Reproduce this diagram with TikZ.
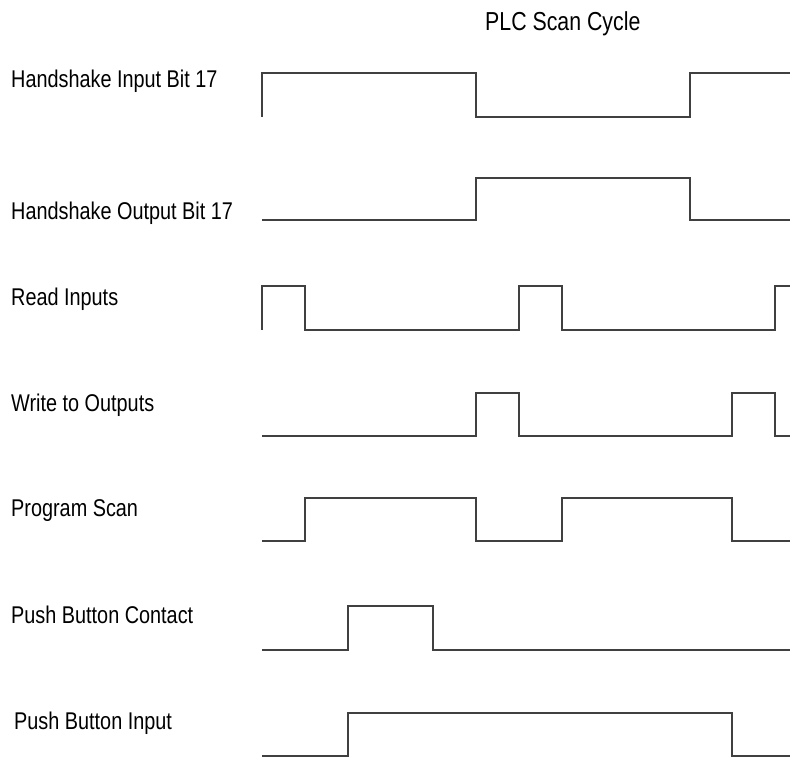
\documentclass[tikz,border=0pt]{standalone}
\usepackage{fontspec}
\setmainfont[FakeStretch=0.82]{Liberation Sans}
\tikzset{
  signal/.style={line width=1.3pt, black!75, line join=miter},
  siglabel/.style={anchor=base west, inner sep=0pt, font=\fontsize{24.2}{28}\selectfont},
  title/.style={anchor=base west, inner sep=0pt, font=\fontsize{26}{30}\selectfont}
}

\begin{document}
\begin{tikzpicture}[x=1pt, y=-1pt]
  \useasboundingbox (0,0) rectangle (790,757);
  \node[title] (cycle) at (485,31) {PLC Scan Cycle};

  \node[siglabel] (hsin) at (11,88) {Handshake Input Bit 17};
  \draw[signal] (262,117) -- (262,73) -- (476,73) -- (476,117) -- (690,117) -- (690,73) -- (790,73);

  \node[siglabel] (hsout) at (11,219) {Handshake Output Bit 17};
  \draw[signal] (262,220) -- (476,220) -- (476,178) -- (690,178) -- (690,220) -- (790,220);

  \node[siglabel] (readin) at (11,305) {Read Inputs};
  \draw[signal] (262,330) -- (262,286) -- (305,286) -- (305,330) -- (519,330) -- (519,286)
    -- (562,286) -- (562,330) -- (775,330) -- (775,286) -- (790,286);

  \node[siglabel] (writeout) at (11,411) {Write to Outputs};
  \draw[signal] (262,436) -- (476,436) -- (476,393) -- (519,393) -- (519,436) -- (732,436)
    -- (732,393) -- (775,393) -- (775,436) -- (790,436);

  \node[siglabel] (progscan) at (11,516) {Program Scan};
  \draw[signal] (262,541) -- (305,541) -- (305,498) -- (476,498) -- (476,541) -- (562,541)
    -- (562,498) -- (732,498) -- (732,541) -- (790,541);

  \node[siglabel] (pbcontact) at (11,623) {Push Button Contact};
  \draw[signal] (262,650) -- (348,650) -- (348,606) -- (433,606) -- (433,650) -- (790,650);

  \node[siglabel] (pbinput) at (14,729) {Push Button Input};
  \draw[signal] (262,756) -- (348,756) -- (348,713) -- (732,713) -- (732,756) -- (790,756);
\end{tikzpicture}
\end{document}
